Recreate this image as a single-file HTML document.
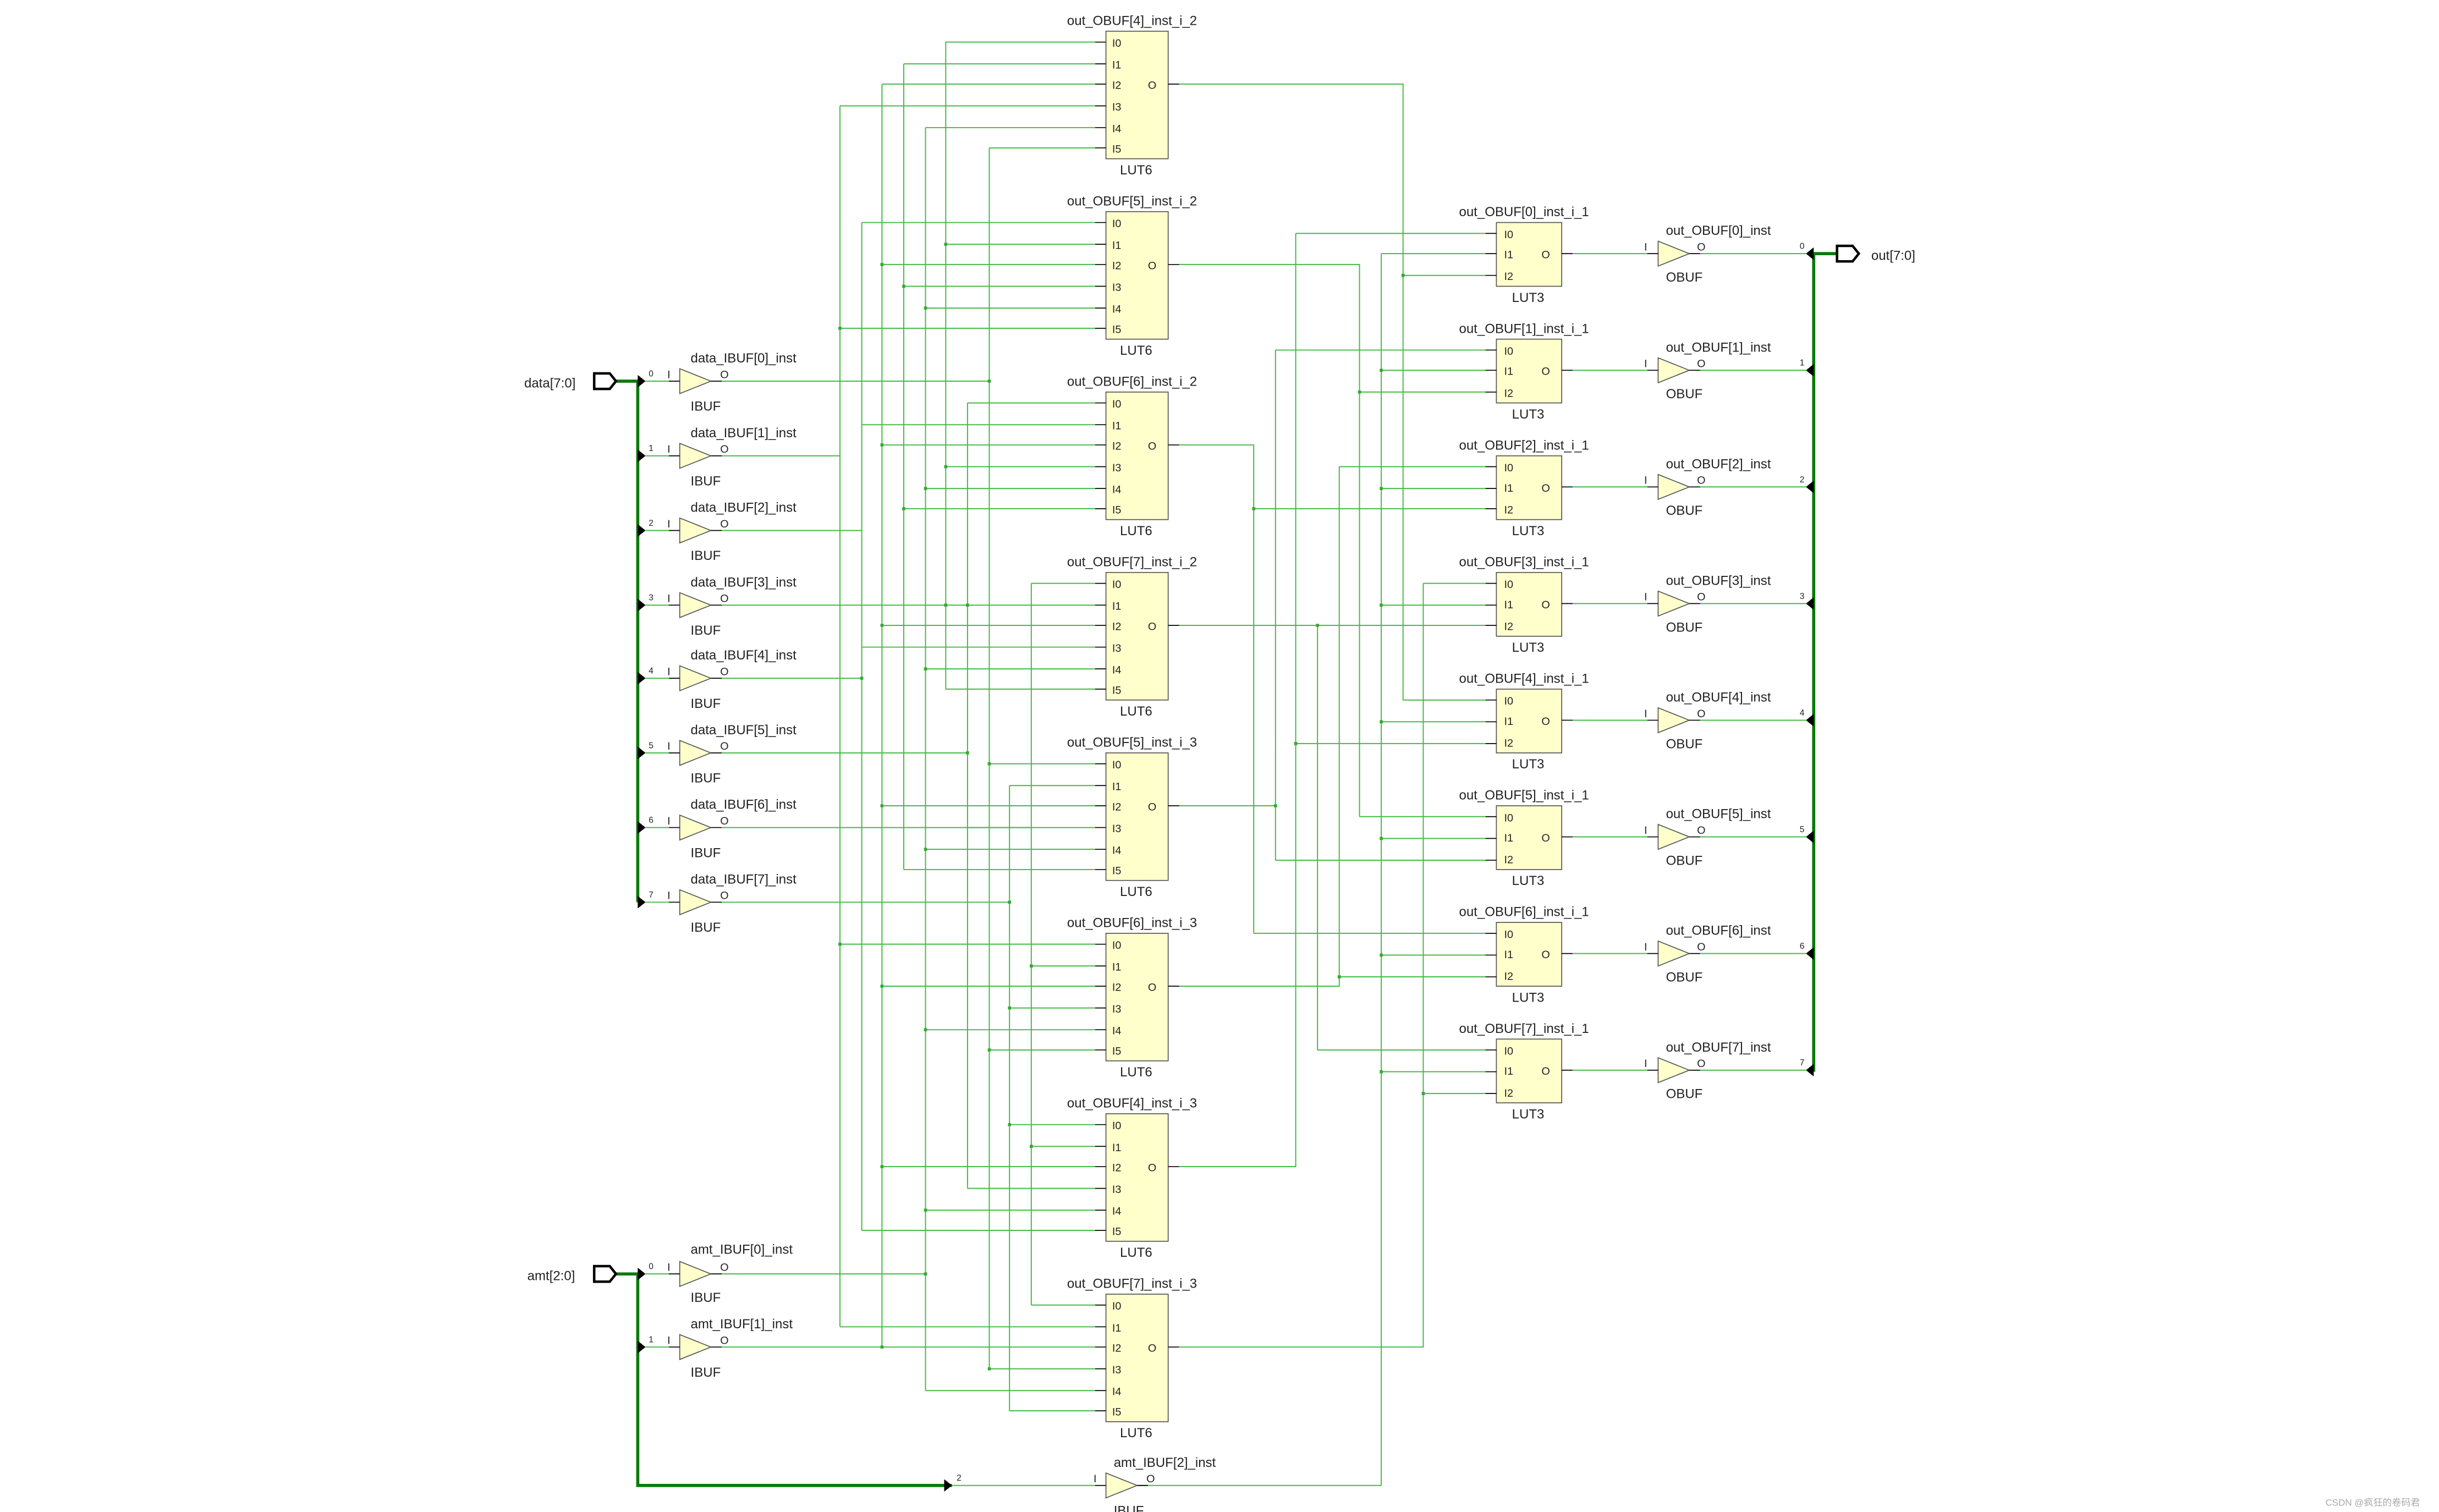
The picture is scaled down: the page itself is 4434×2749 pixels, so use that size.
<!DOCTYPE html>
<html><head><meta charset="utf-8"><style>html,body{margin:0;padding:0;background:#fff}svg{display:block}</style></head><body>
<svg xmlns="http://www.w3.org/2000/svg" width="4434" height="2749" viewBox="0 0 1568 972" font-family="Liberation Sans, sans-serif" font-size="8.5" fill="#222">
<rect width="1568" height="972" fill="#fff"/>
<g stroke="#44bb44" stroke-width="0.7" fill="none">
<!-- left trunks -->
<path d="M540 68V853M554 143V791M567 54V866M581 41V559M595 82V894M608 27V443M622 259V764M636 95V880M649 505V907M663 375V839"/>
<!-- IBUF outputs -->
<path d="M464 245H636M464 293H540M464 341H554M464 389H622M464 436H554M464 484H622M464 532H663M464 580H649M464 819H595M464 866H567M731 955H888"/>
<!-- LUT6 inputs -->
<path d="M608 27H704M581 41H704M567 54H704M540 68H704M595 82H704M636 95H704
M554 143H704M608 157H704M567 170H704M581 184H704M595 198H704M540 211H704
M622 259H704M554 273H704M567 286H704M608 300H704M595 314H704M581 327H704
M663 375H704M622 389H704M567 402H704M554 416H704M595 430H704M608 443H704
M636 491H704M649 505H704M567 518H704M622 532H704M595 546H704M581 559H704
M540 607H704M663 621H704M567 634H704M649 648H704M595 662H704M636 675H704
M649 723H704M663 737H704M567 750H704M622 764H704M595 778H704M554 791H704
M663 839H704M540 853H704M567 866H704M636 880H704M595 894H704M649 907H704"/>
<!-- LUT6 outputs -->
<path d="M758 54H902V450M758 170H874V525M758 286H806V600M758 402H955M847 402V675M758 518H820M820 225V553M758 634H861V300M758 750H833V150M758 866H915V375M888 163V955"/>
<!-- LUT3 inputs -->
<path d="M833 150H955M888 163H955M902 177H955
M820 225H955M888 238H955M874 252H955
M861 300H955M888 314H955M806 327H955
M915 375H955M888 389H955
M902 450H955M888 464H955M833 478H955
M874 525H955M888 539H955M820 553H955
M806 600H955M888 614H955M861 628H955
M847 675H955M888 689H955M915 703H955"/>
<!-- LUT3 out to OBUF, OBUF to bus -->
<path d="M1011 163H1059M1011 238H1059M1011 313H1059M1011 388H1059M1011 463H1059M1011 538H1059M1011 613H1059M1011 688H1059"/>
<path d="M1093 163H1161M1093 238H1161M1093 313H1161M1093 388H1161M1093 463H1161M1093 538H1161M1093 613H1161M1093 688H1161"/>
</g>
<g fill="#33aa33">
<rect x="607" y="156" width="2" height="2"/><rect x="566" y="169" width="2" height="2"/><rect x="580" y="183" width="2" height="2"/><rect x="594" y="197" width="2" height="2"/><rect x="539" y="210" width="2" height="2"/>
<rect x="635" y="244" width="2" height="2"/><rect x="566" y="285" width="2" height="2"/><rect x="607" y="299" width="2" height="2"/><rect x="594" y="313" width="2" height="2"/><rect x="580" y="326" width="2" height="2"/>
<rect x="607" y="388" width="2" height="2"/><rect x="621" y="388" width="2" height="2"/><rect x="566" y="401" width="2" height="2"/><rect x="594" y="429" width="2" height="2"/><rect x="553" y="435" width="2" height="2"/>
<rect x="635" y="490" width="2" height="2"/><rect x="566" y="517" width="2" height="2"/><rect x="621" y="483" width="2" height="2"/><rect x="594" y="545" width="2" height="2"/><rect x="648" y="579" width="2" height="2"/>
<rect x="539" y="606" width="2" height="2"/><rect x="662" y="620" width="2" height="2"/><rect x="566" y="633" width="2" height="2"/><rect x="648" y="647" width="2" height="2"/><rect x="594" y="661" width="2" height="2"/><rect x="635" y="674" width="2" height="2"/>
<rect x="648" y="722" width="2" height="2"/><rect x="662" y="736" width="2" height="2"/><rect x="566" y="749" width="2" height="2"/><rect x="594" y="777" width="2" height="2"/>
<rect x="566" y="865" width="2" height="2"/><rect x="635" y="879" width="2" height="2"/><rect x="594" y="818" width="2" height="2"/>
<rect x="901" y="176" width="2" height="2"/><rect x="873" y="251" width="2" height="2"/><rect x="805" y="326" width="2" height="2"/><rect x="846" y="401" width="2" height="2"/><rect x="819" y="517" width="2" height="2"/><rect x="860" y="627" width="2" height="2"/><rect x="832" y="477" width="2" height="2"/><rect x="914" y="702" width="2" height="2"/>
<rect x="887" y="237" width="2" height="2"/><rect x="887" y="313" width="2" height="2"/><rect x="887" y="388" width="2" height="2"/><rect x="887" y="463" width="2" height="2"/><rect x="887" y="538" width="2" height="2"/><rect x="887" y="613" width="2" height="2"/><rect x="887" y="688" width="2" height="2"/>
</g>
<!-- buses -->
<g stroke="#0b7a0b" stroke-width="2" fill="none">
<path d="M396 245H410V580M396 819H410V955H612"/>
<path d="M1166 163V689M1166 163H1181"/>
</g>
<g fill="#000">
<path d="M410 241l5 4l-5 4zM410 289l5 4l-5 4zM410 337l5 4l-5 4zM410 385l5 4l-5 4zM410 432l5 4l-5 4zM410 480l5 4l-5 4zM410 528l5 4l-5 4zM410 576l5 4l-5 4zM410 815l5 4l-5 4zM410 862l5 4l-5 4zM607 951l5 4l-5 4z"/>
<path d="M1166 159l-5 4l5 4zM1166 234l-5 4l5 4zM1166 309l-5 4l5 4zM1166 384l-5 4l5 4zM1166 459l-5 4l5 4zM1166 534l-5 4l5 4zM1166 609l-5 4l5 4zM1166 684l-5 4l5 4z"/>
</g>
<g stroke="#44bb44" stroke-width="0.7"><path d="M415 245H430M415 293H430M415 341H430M415 389H430M415 436H430M415 484H430M415 532H430M415 580H430M415 819H430M415 866H430M612 955H704"/></g>
<!-- ports -->
<g fill="none" stroke="#000" stroke-width="1.6">
<path d="M382 240H392L396 245L392 250H382Z"/><path d="M382 814H392L396 819L392 824H382Z"/><path d="M1181 158H1191L1195 163L1191 168H1181Z"/>
</g>
<text x="337" y="249">data[7:0]</text><text x="339" y="823">amt[2:0]</text><text x="1203" y="167">out[7:0]</text>
<!-- IBUFs -->
<g fill="#ffffcc" stroke="#555" stroke-width="0.6">
<path d="M437 237V253L457 245Z"/><path d="M437 285V301L457 293Z"/><path d="M437 333V349L457 341Z"/><path d="M437 381V397L457 389Z"/><path d="M437 428V444L457 436Z"/><path d="M437 476V492L457 484Z"/><path d="M437 524V540L457 532Z"/><path d="M437 572V588L457 580Z"/><path d="M437 811V827L457 819Z"/><path d="M437 858V874L457 866Z"/><path d="M711 947V963L731 955Z"/>
<path d="M1066 155V171L1086 163Z"/><path d="M1066 230V246L1086 238Z"/><path d="M1066 305V321L1086 313Z"/><path d="M1066 380V396L1086 388Z"/><path d="M1066 455V471L1086 463Z"/><path d="M1066 530V546L1086 538Z"/><path d="M1066 605V621L1086 613Z"/><path d="M1066 680V696L1086 688Z"/>
</g>
<g stroke="#000" stroke-width="0.6"><path d="M430 245H437M457 245H464M430 293H437M457 293H464M430 341H437M457 341H464M430 389H437M457 389H464M430 436H437M457 436H464M430 484H437M457 484H464M430 532H437M457 532H464M430 580H437M457 580H464M430 819H437M457 819H464M430 866H437M457 866H464M704 955H711M731 955H738
M1059 163H1066M1086 163H1093M1059 238H1066M1086 238H1093M1059 313H1066M1086 313H1093M1059 388H1066M1086 388H1093M1059 463H1066M1086 463H1093M1059 538H1066M1086 538H1093M1059 613H1066M1086 613H1093M1059 688H1066M1086 688H1093"/></g>
<g font-size="8.5">
<text x="444" y="233">data_IBUF[0]_inst</text><text x="444" y="264">IBUF</text>
<text x="444" y="281">data_IBUF[1]_inst</text><text x="444" y="312">IBUF</text>
<text x="444" y="329">data_IBUF[2]_inst</text><text x="444" y="360">IBUF</text>
<text x="444" y="377">data_IBUF[3]_inst</text><text x="444" y="408">IBUF</text>
<text x="444" y="424">data_IBUF[4]_inst</text><text x="444" y="455">IBUF</text>
<text x="444" y="472">data_IBUF[5]_inst</text><text x="444" y="503">IBUF</text>
<text x="444" y="520">data_IBUF[6]_inst</text><text x="444" y="551">IBUF</text>
<text x="444" y="568">data_IBUF[7]_inst</text><text x="444" y="599">IBUF</text>
<text x="444" y="806">amt_IBUF[0]_inst</text><text x="444" y="837">IBUF</text>
<text x="444" y="854">amt_IBUF[1]_inst</text><text x="444" y="885">IBUF</text>
<text x="716" y="943">amt_IBUF[2]_inst</text><text x="716" y="974">IBUF</text>
</g>
<g font-size="7">
<text x="429" y="243">I</text><text x="463" y="243">O</text><text x="429" y="291">I</text><text x="463" y="291">O</text><text x="429" y="339">I</text><text x="463" y="339">O</text><text x="429" y="387">I</text><text x="463" y="387">O</text><text x="429" y="434">I</text><text x="463" y="434">O</text><text x="429" y="482">I</text><text x="463" y="482">O</text><text x="429" y="530">I</text><text x="463" y="530">O</text><text x="429" y="578">I</text><text x="463" y="578">O</text><text x="429" y="817">I</text><text x="463" y="817">O</text><text x="429" y="864">I</text><text x="463" y="864">O</text><text x="703" y="953">I</text><text x="737" y="953">O</text>
</g>
<g font-size="5.5">
<text x="417" y="242">0</text><text x="417" y="290">1</text><text x="417" y="338">2</text><text x="417" y="386">3</text><text x="417" y="433">4</text><text x="417" y="481">5</text><text x="417" y="529">6</text><text x="417" y="577">7</text><text x="417" y="816">0</text><text x="417" y="863">1</text><text x="615" y="952">2</text>
<text x="1157" y="160">0</text><text x="1157" y="235">1</text><text x="1157" y="310">2</text><text x="1157" y="385">3</text><text x="1157" y="460">4</text><text x="1157" y="535">5</text><text x="1157" y="610">6</text><text x="1157" y="685">7</text>
</g>
<!-- LUT6 boxes -->
<g fill="#ffffcc" stroke="#555" stroke-width="0.6">
<rect x="711" y="20" width="40" height="82"/><rect x="711" y="136" width="40" height="82"/><rect x="711" y="252" width="40" height="82"/><rect x="711" y="368" width="40" height="82"/><rect x="711" y="484" width="40" height="82"/><rect x="711" y="600" width="40" height="82"/><rect x="711" y="716" width="40" height="82"/><rect x="711" y="832" width="40" height="82"/>
<rect x="962" y="143" width="42" height="41"/><rect x="962" y="218" width="42" height="41"/><rect x="962" y="293" width="42" height="41"/><rect x="962" y="368" width="42" height="41"/><rect x="962" y="443" width="42" height="41"/><rect x="962" y="518" width="42" height="41"/><rect x="962" y="593" width="42" height="41"/><rect x="962" y="668" width="42" height="41"/>
</g>
<g font-size="8.5">
<text x="686" y="16">out_OBUF[4]_inst_i_2</text><text x="686" y="132">out_OBUF[5]_inst_i_2</text><text x="686" y="248">out_OBUF[6]_inst_i_2</text><text x="686" y="364">out_OBUF[7]_inst_i_2</text><text x="686" y="480">out_OBUF[5]_inst_i_3</text><text x="686" y="596">out_OBUF[6]_inst_i_3</text><text x="686" y="712">out_OBUF[4]_inst_i_3</text><text x="686" y="828">out_OBUF[7]_inst_i_3</text>
<text x="720" y="112">LUT6</text><text x="720" y="228">LUT6</text><text x="720" y="344">LUT6</text><text x="720" y="460">LUT6</text><text x="720" y="576">LUT6</text><text x="720" y="692">LUT6</text><text x="720" y="808">LUT6</text><text x="720" y="924">LUT6</text>
<text x="938" y="139">out_OBUF[0]_inst_i_1</text><text x="938" y="214">out_OBUF[1]_inst_i_1</text><text x="938" y="289">out_OBUF[2]_inst_i_1</text><text x="938" y="364">out_OBUF[3]_inst_i_1</text><text x="938" y="439">out_OBUF[4]_inst_i_1</text><text x="938" y="514">out_OBUF[5]_inst_i_1</text><text x="938" y="589">out_OBUF[6]_inst_i_1</text><text x="938" y="664">out_OBUF[7]_inst_i_1</text>
<text x="972" y="194">LUT3</text><text x="972" y="269">LUT3</text><text x="972" y="344">LUT3</text><text x="972" y="419">LUT3</text><text x="972" y="494">LUT3</text><text x="972" y="569">LUT3</text><text x="972" y="644">LUT3</text><text x="972" y="719">LUT3</text>
<text x="1071" y="151">out_OBUF[0]_inst</text><text x="1071" y="226">out_OBUF[1]_inst</text><text x="1071" y="301">out_OBUF[2]_inst</text><text x="1071" y="376">out_OBUF[3]_inst</text><text x="1071" y="451">out_OBUF[4]_inst</text><text x="1071" y="526">out_OBUF[5]_inst</text><text x="1071" y="601">out_OBUF[6]_inst</text><text x="1071" y="676">out_OBUF[7]_inst</text>
<text x="1071" y="181">OBUF</text><text x="1071" y="256">OBUF</text><text x="1071" y="331">OBUF</text><text x="1071" y="406">OBUF</text><text x="1071" y="481">OBUF</text><text x="1071" y="556">OBUF</text><text x="1071" y="631">OBUF</text><text x="1071" y="706">OBUF</text>
</g>
<g font-size="7">
<text x="1057" y="161">I</text><text x="1091" y="161">O</text><text x="1057" y="236">I</text><text x="1091" y="236">O</text><text x="1057" y="311">I</text><text x="1091" y="311">O</text><text x="1057" y="386">I</text><text x="1091" y="386">O</text><text x="1057" y="461">I</text><text x="1091" y="461">O</text><text x="1057" y="536">I</text><text x="1091" y="536">O</text><text x="1057" y="611">I</text><text x="1091" y="611">O</text><text x="1057" y="686">I</text><text x="1091" y="686">O</text>
</g>
<!-- pin stubs and labels (LUT6) -->
<g stroke="#000" stroke-width="0.6">
<path d="M704 27h7M704 41h7M704 54h7M704 68h7M704 82h7M704 95h7M751 54h7
M704 143h7M704 157h7M704 170h7M704 184h7M704 198h7M704 211h7M751 170h7
M704 259h7M704 273h7M704 286h7M704 300h7M704 314h7M704 327h7M751 286h7
M704 375h7M704 389h7M704 402h7M704 416h7M704 430h7M704 443h7M751 402h7
M704 491h7M704 505h7M704 518h7M704 532h7M704 546h7M704 559h7M751 518h7
M704 607h7M704 621h7M704 634h7M704 648h7M704 662h7M704 675h7M751 634h7
M704 723h7M704 737h7M704 750h7M704 764h7M704 778h7M704 791h7M751 750h7
M704 839h7M704 853h7M704 866h7M704 880h7M704 894h7M704 907h7M751 866h7
M955 150h7M955 163h7M955 177h7M1004 163h7M955 225h7M955 238h7M955 252h7M1004 238h7M955 300h7M955 314h7M955 327h7M1004 313h7M955 375h7M955 389h7M955 402h7M1004 388h7M955 450h7M955 464h7M955 478h7M1004 463h7M955 525h7M955 539h7M955 553h7M1004 538h7M955 600h7M955 614h7M955 628h7M1004 613h7M955 675h7M955 689h7M955 703h7M1004 688h7"/>
</g>
<g font-size="7">
<g id="p6"><text x="715" y="30">I0</text><text x="715" y="44">I1</text><text x="715" y="57">I2</text><text x="715" y="71">I3</text><text x="715" y="85">I4</text><text x="715" y="98">I5</text><text x="738" y="57">O</text></g>
<use href="#p6" y="116"/><use href="#p6" y="232"/><use href="#p6" y="348"/><use href="#p6" y="464"/><use href="#p6" y="580"/><use href="#p6" y="696"/><use href="#p6" y="812"/>
<g id="p3"><text x="967" y="153">I0</text><text x="967" y="166">I1</text><text x="967" y="180">I2</text><text x="991" y="166">O</text></g>
<use href="#p3" y="75"/><use href="#p3" y="150"/><use href="#p3" y="225"/><use href="#p3" y="300"/><use href="#p3" y="375"/><use href="#p3" y="450"/><use href="#p3" y="525"/>
</g>
<text x="1495" y="968" font-size="6" fill="#aaa">CSDN @疯狂的卷码君</text>
</svg>
</body></html>
